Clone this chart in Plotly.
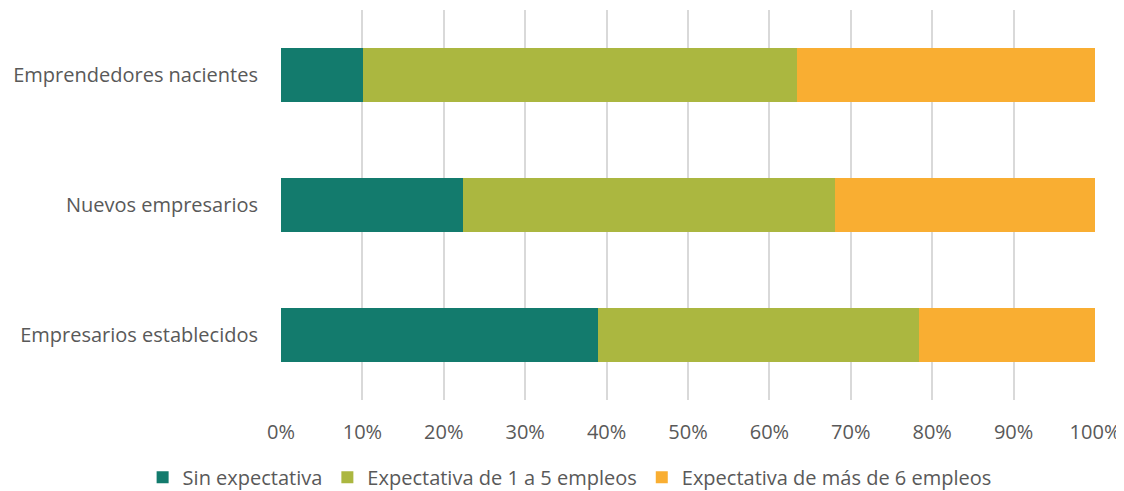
import plotly.graph_objects as go

categories = ["Emprendedores nacientes", "Nuevos empresarios", "Empresarios establecidos"]
sin_expectativa = [10.1, 22.3, 39.0]
expectativa_1_5 = [53.3, 45.8, 39.4]
expectativa_6_mas = [36.6, 31.9, 21.6]

series = [
    ("Sin expectativa", sin_expectativa, "#137B6D"),
    ("Expectativa de 1 a 5 empleos", expectativa_1_5, "#ABB740"),
    ("Expectativa de más de 6 empleos", expectativa_6_mas, "#F9AE32"),
]

fig = go.Figure()
for name, vals, color in series:
    fig.add_trace(go.Bar(
        y=categories, x=vals, name=name, orientation="h",
        marker=dict(color=color, line=dict(width=0)),
    ))

# page body has an 8px margin, so the figure is shifted by 8px
fig.update_layout(
    barmode="stack",
    bargap=0.59,
    width=1116, height=483,
    margin=dict(l=273, r=29, t=2, b=91, autoexpand=False),
    plot_bgcolor="white", paper_bgcolor="white",
    font=dict(family="Open Sans, Liberation Sans, sans-serif", size=20, color="#595959"),
    legend=dict(orientation="h", x=-0.17, xanchor="left", y=-0.198, yanchor="middle",
                font=dict(size=20), traceorder="normal"),
)
fig.update_xaxes(
    range=[0, 100], dtick=10, ticksuffix="%",
    showgrid=True, gridcolor="#D9D9D9", gridwidth=1.5,
    zeroline=False, showline=False, ticklabelstandoff=18,
    ticklabeloverflow="allow",
)
fig.update_yaxes(
    autorange="reversed", showgrid=False, showline=False,
    ticklabelstandoff=22,
)

fig.write_html("out.html")
